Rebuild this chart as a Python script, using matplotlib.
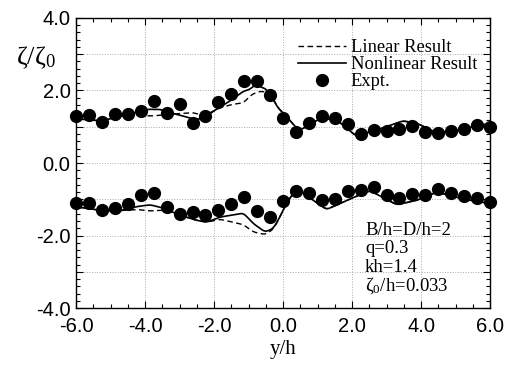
import matplotlib
matplotlib.use('Agg')
import matplotlib.pyplot as plt
from matplotlib.ticker import MultipleLocator, FuncFormatter
import numpy as np

plt.rcParams['axes.unicode_minus'] = False
plt.rcParams['mathtext.fontset'] = 'stix'

# experiment points, y/h from -6 to 6 step 0.375
expt_x = [-6.0, -5.625, -5.25, -4.875, -4.5, -4.125, -3.75, -3.375, -3.0, -2.625, -2.25,
          -1.875, -1.5, -1.125, -0.75, -0.375, 0.0, 0.375, 0.75, 1.125, 1.5, 1.875,
          2.25, 2.625, 3.0, 3.375, 3.75, 4.125, 4.5, 4.875, 5.25, 5.625, 6.0]
expt_upper = [1.30, 1.32, 1.14, 1.36, 1.34, 1.43, 1.71, 1.39, 1.63, 1.11, 1.30,
              1.68, 1.89, 2.27, 2.25, 1.87, 1.25, 0.85, 1.10, 1.30, 1.23, 1.09,
              0.79, 0.90, 0.89, 0.94, 1.02, 0.86, 0.84, 0.88, 0.93, 1.04, 0.99]
expt_lower = [-1.10, -1.10, -1.29, -1.23, -1.12, -0.88, -0.82, -1.21, -1.40, -1.35, -1.44,
              -1.29, -1.12, -0.94, -1.32, -1.50, -1.05, -0.78, -0.82, -1.03, -0.99, -0.78,
              -0.73, -0.65, -0.88, -0.97, -0.85, -0.87, -0.71, -0.82, -0.91, -0.97, -1.06]

# nonlinear result, upper
nl_up_x = [-6.0, -5.26, -4.53, -4.14, -3.95, -3.56, -3.37, -2.99, -2.6, -2.32, -2.02,
           -1.54, -1.15, -0.96, -0.81, -0.47, -0.12, 0.0, 0.46, 1.04, 1.53, 2.11,
           2.78, 3.46, 3.85, 4.43, 5.01, 5.78, 6.0]
nl_up_y = [1.22, 1.16, 1.34, 1.43, 1.48, 1.48, 1.41, 1.32, 1.21, 1.22, 1.43,
           1.71, 1.98, 2.03, 2.16, 2.03, 1.48, 1.39, 0.89, 1.21, 1.21, 0.75,
           0.93, 1.16, 1.11, 0.84, 0.89, 1.07, 1.05]

# linear result, upper
lin_up_x = [-6.0, -5.26, -4.53, -4.14, -3.75, -3.37, -2.6, -2.32, -2.02, -1.83,
            -1.45, -1.15, -0.91, -0.67, -0.38, -0.12, 0.0, 0.46, 1.04, 1.53, 2.11,
            2.78, 3.46, 3.85, 4.43, 5.01, 5.78, 6.0]
lin_up_y = [1.22, 1.16, 1.34, 1.30, 1.30, 1.34, 1.39, 1.30, 1.43, 1.53,
            1.62, 1.66, 1.89, 1.98, 1.94, 1.48, 1.39, 0.89, 1.21, 1.21, 0.75,
            0.93, 1.16, 1.11, 0.84, 0.89, 1.07, 1.05]

# nonlinear result, lower
nl_lo_x = [-6.0, -5.59, -5.2, -4.72, -4.24, -3.86, -3.47, -2.99, -2.5, -2.21, -1.83,
           -1.15, -0.86, -0.52, -0.28, -0.1, 0.1, 0.39, 1.26, 1.94, 2.52, 3.29,
           3.87, 4.45, 5.22, 6.0]
nl_lo_y = [-1.21, -1.26, -1.32, -1.31, -1.20, -1.15, -1.24, -1.44, -1.58, -1.63, -1.49,
           -1.38, -1.67, -1.90, -1.80, -1.50, -1.10, -0.71, -1.28, -0.99, -0.76, -1.15,
           -1.03, -0.80, -0.99, -1.12]

# linear result, lower
lin_lo_x = [-6.0, -5.59, -5.2, -4.72, -4.24, -3.86, -3.47, -2.99, -2.5, -2.21, -1.83,
            -1.45, -1.15, -0.86, -0.52, -0.28, -0.1, 0.1, 0.39, 1.26, 1.94, 2.52,
            3.29, 3.87, 4.45, 5.22, 6.0]
lin_lo_y = [-1.21, -1.26, -1.32, -1.31, -1.28, -1.32, -1.30, -1.44, -1.58, -1.63, -1.55,
            -1.63, -1.70, -1.90, -1.97, -1.82, -1.50, -1.10, -0.71, -1.28, -0.99, -0.76,
            -1.15, -1.03, -0.80, -0.99, -1.12]

params = ['B/h=D/h=2', 'q=0.3', 'kh=1.4', r'$\mathregular{\zeta_0}$/h=0.033']


def smooth(xs, ys):
    # draw a smooth curve through the read points
    xs = np.asarray(xs)
    ys = np.asarray(ys)
    xx = np.linspace(xs[0], xs[-1], 600)
    t = np.interp(xx, xs, ys)
    k = np.ones(9) / 9
    pad = np.pad(t, 4, mode='edge')
    return xx, np.convolve(pad, k, mode='valid')


fig = plt.figure(figsize=(5.18, 3.66), dpi=100)
ax = fig.add_axes([0.147, 0.158, 0.799, 0.793])

serif = 'Liberation Serif'
sans = 'Liberation Sans'

xx, yy = smooth(lin_up_x, lin_up_y)
ax.plot(xx, yy, color='black', lw=1.0, ls=(0, (4, 2.5)), label='Linear Result')
xx, yy = smooth(nl_up_x, nl_up_y)
ax.plot(xx, yy, color='black', lw=1.2, label='Nonlinear Result')
ax.plot(expt_x, expt_upper, 'o', color='black', ms=8.5, label='Expt.', clip_on=False)

xx, yy = smooth(lin_lo_x, lin_lo_y)
ax.plot(xx, yy, color='black', lw=1.0, ls=(0, (4, 2.5)))
xx, yy = smooth(nl_lo_x, nl_lo_y)
ax.plot(xx, yy, color='black', lw=1.2)
ax.plot(expt_x, expt_lower, 'o', color='black', ms=8.5, clip_on=False)

ax.set_xlim(-6, 6)
ax.set_ylim(-4, 4)
ax.xaxis.set_major_locator(MultipleLocator(2))
ax.xaxis.set_minor_locator(MultipleLocator(0.5))
ax.yaxis.set_major_locator(MultipleLocator(1))
ax.yaxis.set_minor_locator(MultipleLocator(0.2))
ax.xaxis.set_major_formatter(FuncFormatter(lambda v, p: '%.1f' % v))
ax.yaxis.set_major_formatter(FuncFormatter(lambda v, p: '%.1f' % v if round(v) % 2 == 0 else ''))
ax.tick_params(which='both', direction='in', top=True, right=True, width=0.8)
ax.tick_params(which='major', length=5, labelsize=14.5)
ax.tick_params(axis='x', which='major', pad=6)
ax.tick_params(axis='y', which='major', pad=4)
ax.tick_params(which='minor', length=3)
for lab in ax.get_xticklabels() + ax.get_yticklabels():
    lab.set_fontfamily(sans)
ax.grid(True, which='major', ls=':', color='#aaaaaa', lw=0.7)
for s in ax.spines.values():
    s.set_linewidth(1.0)

ax.set_xlabel('y/h', fontfamily=serif, fontsize=15, labelpad=3)
fig.text(0.03, 0.843, r'$\mathregular{\zeta/\zeta_0}$', fontsize=19, fontfamily=serif,
         va='center')

leg = ax.legend(loc='upper right', bbox_to_anchor=(1.0, 0.972), frameon=False,
                prop={'family': serif, 'size': 13.3}, handlelength=2.6,
                handletextpad=0.25, labelspacing=0.0, borderaxespad=0.3)

for i, t in enumerate(params):
    ax.text(0.698, 0.269 - i * 0.064, t, transform=ax.transAxes, fontfamily=serif,
            fontsize=13.5, va='center')

fig.savefig('out.png', dpi=100)
